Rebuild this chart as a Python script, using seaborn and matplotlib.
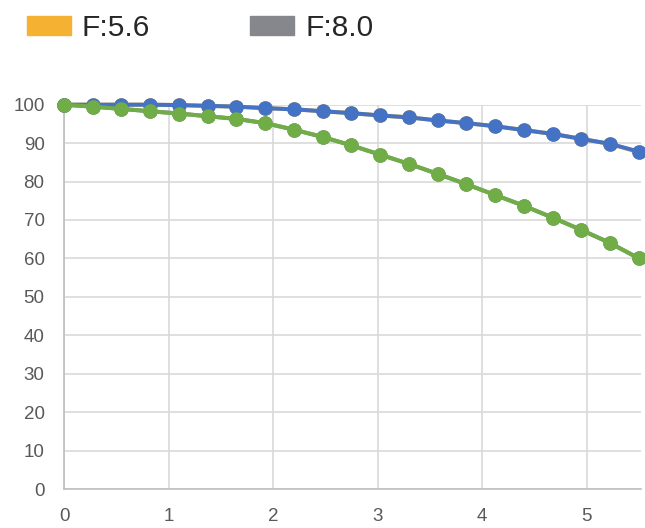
import numpy as np
import pandas as pd
import matplotlib.pyplot as plt
import seaborn as sns
from matplotlib.patches import Patch

x_vals = [0, 0.275, 0.55, 0.825, 1.1, 1.375, 1.65, 1.925, 2.2, 2.475, 2.75,
          3.025, 3.3, 3.575, 3.85, 4.125, 4.4, 4.675, 4.95, 5.225, 5.5]
f56 = [100, 100, 100, 100, 99.9, 99.7, 99.5, 99.1, 98.8, 98.3, 97.8,
       97.2, 96.7, 95.9, 95.2, 94.4, 93.4, 92.4, 91.1, 89.8, 87.6]
f80 = [100, 99.5, 98.9, 98.3, 97.7, 97.0, 96.3, 95.2, 93.5, 91.6, 89.4,
       87.0, 84.6, 82.0, 79.3, 76.5, 73.7, 70.6, 67.4, 64.0, 60.0]
top_blue = [100, 100, 100, 100, 99.9, 99.7, 99.5, 99.1, 98.8, 98.3, 97.8,
            97.2, 96.7, 95.9, 95.2, 94.4, 93.4, 92.4, 91.1, 89.8, 87.8]
top_green = [100, 99.5, 98.9, 98.3, 97.7, 97.0, 96.3, 95.2, 93.5, 91.6, 89.4,
             87.0, 84.6, 82.0, 79.3, 76.5, 73.7, 70.6, 67.4, 64.0, 60.0]

legend_labels = ['F:5.6', 'F:8.0']
legend_colors = ['#F4B132', '#85878D']

sns.set_style('white')
plt.rcParams['font.family'] = ['Liberation Sans', 'DejaVu Sans']

fig = plt.figure(figsize=(6.45, 5.28), dpi=100)
ax = fig.add_axes([64 / 645, 1 - 489 / 528, (641 - 64) / 645, (489 - 104.7) / 528])

series = [(f56, '#F4B132'), (f80, '#85878D'),
          (top_blue, '#4472C4'), (top_green, '#70AD47')]
for i, (vals, color) in enumerate(series):
    df = pd.DataFrame({'x': x_vals, 'y': vals})
    sns.lineplot(data=df, x='x', y='y', ax=ax, color=color, lw=2.9,
                 marker='o', markersize=10.5, markeredgewidth=0,
                 legend=False, clip_on=False, zorder=3 + i)

ax.set_xlim(0, 5.52)
ax.set_ylim(0, 100)
ax.set_xticks(range(0, 6))
ax.set_yticks(range(0, 101, 10))
ax.set_xlabel('')
ax.set_ylabel('')
ax.grid(True, color='#D9D9D9', lw=1.2)
ax.set_axisbelow(True)
for side in ['top', 'right']:
    ax.spines[side].set_visible(False)
for side in ['left', 'bottom']:
    ax.spines[side].set_color('#BFBFBF')
    ax.spines[side].set_linewidth(1.2)
ax.tick_params(axis='both', length=0, labelsize=13.5, labelcolor='#595959')
ax.tick_params(axis='y', pad=14)
ax.tick_params(axis='x', pad=14)

handles = [Patch(color=c, label=l) for l, c in zip(legend_labels, legend_colors)]
fig.legend(handles=handles, loc='center left', bbox_to_anchor=(27 / 645, 1 - 28 / 528),
           ncol=2, frameon=False, fontsize=21.5, handlelength=1.47, handleheight=0.6,
           handletextpad=0.37, columnspacing=3.34, borderaxespad=0, borderpad=0)

fig.savefig('out.png', dpi=100)
